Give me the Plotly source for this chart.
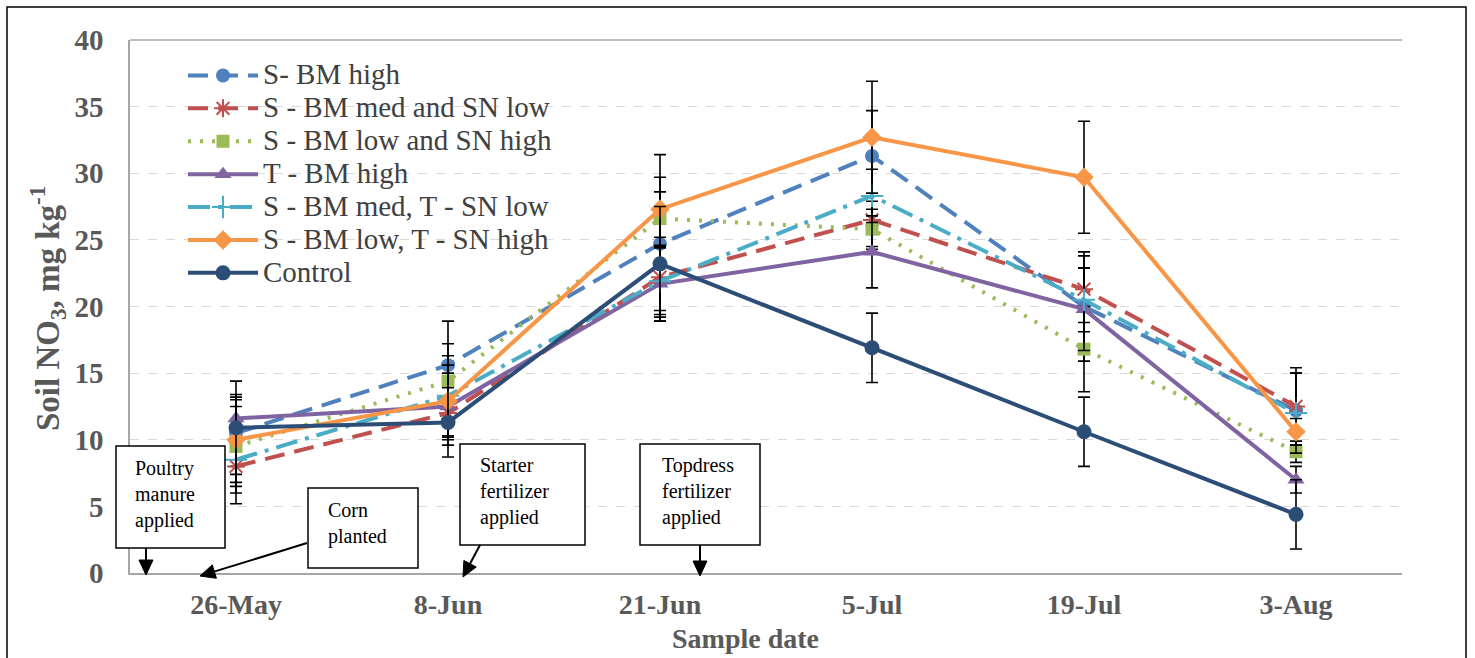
import math
import plotly.graph_objects as go

dates = ["26-May", "8-Jun", "21-Jun", "5-Jul", "19-Jul", "3-Aug"]
y_ticks = [0, 5, 10, 15, 20, 25, 30, 35, 40]

names = ["S- BM high", "S - BM med and SN low", "S - BM low and SN high", "T - BM high",
         "S - BM med, T - SN low", "S - BM low, T - SN high", "Control"]

s_bm_high = [10.5, 15.6, 24.7, 31.3, 20.0, 12.2]
s_bm_med_sn_low = [8.0, 12.0, 22.2, 26.5, 21.3, 12.5]
s_bm_low_sn_high = [9.5, 14.4, 26.6, 25.8, 16.8, 9.1]
t_bm_high = [11.6, 12.5, 21.7, 24.1, 19.8, 7.0]
s_bm_med_t_sn_low = [8.5, 13.3, 21.9, 28.3, 20.5, 12.0]
s_bm_low_t_sn_high = [10.0, 12.9, 27.3, 32.7, 29.7, 10.6]
control = [10.9, 11.3, 23.2, 16.9, 10.6, 4.4]

err_s_bm_high = [2.5, 3.3, 5.0, 3.4, 4.1, 2.8]
err_s_bm_med_sn_low = [2.8, 2.4, 3.0, 2.0, 2.5, 2.9]
err_s_bm_low_sn_high = [3.0, 2.8, 2.0, 1.5, 3.2, 0.8]
err_t_bm_high = [1.8, 2.5, 2.8, 2.7, 3.1, 1.0]
err_s_bm_med_t_sn_low = [2.5, 3.0, 2.5, 2.0, 2.4, 3.0]
err_s_bm_low_t_sn_high = [3.2, 2.7, 4.1, 4.2, 4.2, 1.0]
err_control = [3.5, 2.6, 4.3, 2.6, 2.6, 2.6]

values = [s_bm_high, s_bm_med_sn_low, s_bm_low_sn_high, t_bm_high,
          s_bm_med_t_sn_low, s_bm_low_t_sn_high, control]
errors = [err_s_bm_high, err_s_bm_med_sn_low, err_s_bm_low_sn_high, err_t_bm_high,
          err_s_bm_med_t_sn_low, err_s_bm_low_t_sn_high, err_control]

colors = ["#4F81BD", "#C0504D", "#9BBB59", "#8064A2", "#4BACC6", "#F79646", "#2C4D75"]
dashes = ["20px,10px", "20px,10px", "3px,9px", "solid", "22px,8px,4px,8px", "solid", "solid"]
symbols = ["circle", "asterisk-open", "square", "triangle-up", "cross-thin-open", "diamond", "circle"]
sizes = [14, 15, 13, 15, 16, 15, 15]

FONT = "Liberation Serif"
GRAY = "#595959"

# pixel -> paper helpers for layout placement (plot area 130..1402 x 40..573)
PL, PT, PW, PH = 130, 40, 1272, 533


def xp(px):
    return (px - PL) / PW


def yp(py):
    return (PT + PH - py) / PH


xs = list(range(len(dates)))

fig = go.Figure()
for name, v, e, c, d, s, sz in zip(names, values, errors, colors, dashes, symbols, sizes):
    open_marker = s.endswith("-open")
    fig.add_trace(go.Scatter(
        x=xs, y=v, name='<span style="font-size:29px">%s</span>' % name, mode="lines+markers",
        line=dict(color=c, width=4, dash=d),
        marker=dict(symbol=s, size=sz, color=c,
                    line=dict(color=c, width=2 if open_marker else 0)),
        error_y=dict(type="data", array=e, visible=True, color="black", thickness=1.6, width=6),
        cliponaxis=False,
    ))

shapes = []
# top frame line
shapes.append(dict(type="line", xref="paper", yref="paper", x0=0, x1=1, y0=1, y1=1,
                   line=dict(color="#A6A6A6", width=1.5)))
# outer border
shapes.append(dict(type="rect", xref="paper", yref="paper",
                   x0=xp(7), x1=xp(1466), y0=yp(664), y1=yp(7),
                   line=dict(color="black", width=1.5), fillcolor="rgba(0,0,0,0)", layer="below"))

boxes = [
    ((116, 446, 225, 548), "Poultry<br>manure<br>applied", 133, 494),
    ((308, 488, 418, 568), "Corn<br>planted", 326, 523.5),
    ((460, 444, 585, 545), "Starter<br>fertilizer<br>applied", 478, 492),
    ((640, 444, 760, 545), "Topdress<br>fertilizer<br>applied", 660, 492),
]
annotations = []
for (l, t, r, b), txt, tx, ty in boxes:
    shapes.append(dict(type="rect", xref="paper", yref="paper", x0=xp(l), x1=xp(r), y0=yp(b), y1=yp(t),
                       line=dict(color="black", width=1.5), fillcolor="white", layer="above"))
    annotations.append(dict(xref="paper", yref="paper", x=xp(tx), y=yp(ty), text=txt, showarrow=False,
                            xanchor="left", yanchor="middle", align="left",
                            font=dict(family=FONT, size=20, color="black")))

arrows = [((146, 548), (146, 575)), ((307, 543), (200, 576)),
          ((480, 545), (463, 577)), ((700, 545), (700, 576))]
HL, HW = 15, 7
for (tx, ty), (hx, hy) in arrows:
    L = math.hypot(hx - tx, hy - ty)
    ux, uy = (hx - tx) / L, (hy - ty) / L
    bx, by = hx - ux * HL, hy - uy * HL
    shapes.append(dict(type="line", xref="paper", yref="paper", x0=xp(tx), y0=yp(ty),
                       x1=xp(bx + ux * 2), y1=yp(by + uy * 2), line=dict(color="black", width=2),
                       layer="above"))
    p1 = (bx - uy * HW, by + ux * HW)
    p2 = (bx + uy * HW, by - ux * HW)
    path = "M %f %f L %f %f L %f %f Z" % (xp(hx), yp(hy), xp(p1[0]), yp(p1[1]), xp(p2[0]), yp(p2[1]))
    shapes.append(dict(type="path", xref="paper", yref="paper", path=path,
                       fillcolor="black", line=dict(color="black", width=1), layer="above"))

annotations.append(dict(xref="paper", yref="paper", x=xp(745), y=yp(638),
                        text="<b>Sample date</b>", showarrow=False, xanchor="center", yanchor="middle",
                        font=dict(family=FONT, size=28, color=GRAY)))
annotations.append(dict(xref="paper", yref="paper", x=xp(47), y=yp(309),
                        text="<b>Soil NO<sub>3</sub>, mg kg<sup>-1</sup></b>", showarrow=False,
                        textangle=-90, xanchor="center", yanchor="middle",
                        font=dict(family=FONT, size=33, color=GRAY)))

fig.update_layout(
    width=1475, height=658,
    margin=dict(l=PL, r=1475 - PL - PW, t=PT, b=658 - PT - PH),
    paper_bgcolor="white", plot_bgcolor="white",
    showlegend=True,
    legend=dict(x=xp(183), y=yp(54), xanchor="left", yanchor="top", bgcolor="rgba(0,0,0,0)",
                font=dict(family=FONT, size=23, color="#404040"), itemwidth=70,
                tracegroupgap=0),
    xaxis=dict(range=[-0.5, 5.5], tickmode="array", tickvals=xs,
               ticktext=["<b>%s</b>" % d for d in dates],
               showgrid=False, zeroline=False, showline=True, linecolor="#A6A6A6", linewidth=1.5,
               ticks="", tickfont=dict(family=FONT, size=28, color=GRAY), ticklabelstandoff=6),
    yaxis=dict(range=[0, 40], tickmode="array", tickvals=y_ticks,
               ticktext=["<b>%d</b>" % v for v in y_ticks],
               showgrid=True, gridcolor="#D9D9D9", griddash="dash",
               gridwidth=1.2, zeroline=False, showline=True, linecolor="#A6A6A6", linewidth=1.5,
               ticks="", tickfont=dict(family=FONT, size=29, color=GRAY), ticklabelstandoff=19),
    shapes=shapes,
    annotations=annotations,
    font=dict(family=FONT),
)

fig.write_html("out.html", config={"displayModeBar": False},
               post_script="document.body.style.margin='0px';document.body.style.overflow='hidden';")
